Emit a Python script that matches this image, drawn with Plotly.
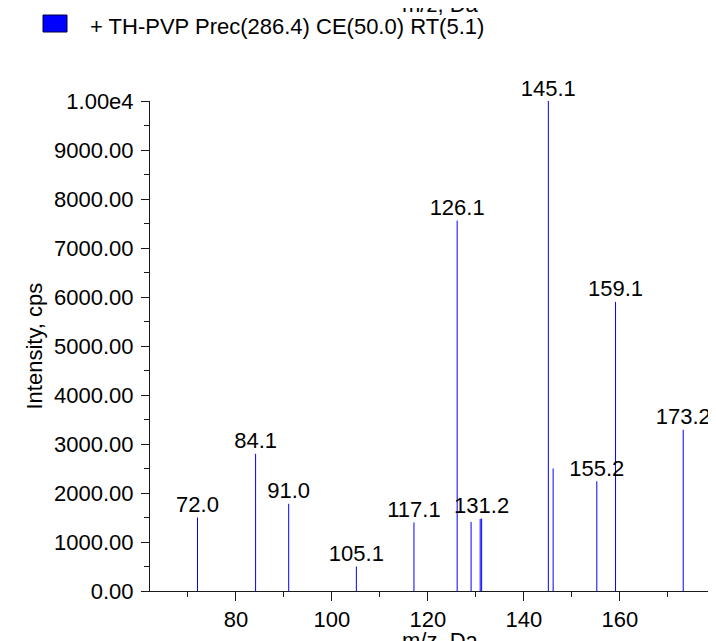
import plotly.graph_objects as go

# ---- data ----
mz = [72.0, 84.1, 91.0, 105.1, 117.1, 126.1, 129.0, 130.9, 131.2, 145.1, 146.1, 155.2, 159.1, 173.2]
intensity = [1500, 2800, 1780, 500, 1400, 7560, 1410, 1470, 1480, 10000, 2500, 2240, 5900, 3290]
peak_labels = ["72.0", "84.1", "91.0", "105.1", "117.1", "126.1", "", "", "131.2",
               "145.1", "", "155.2", "159.1", "173.2"]
y_tickvals = [0, 1000, 2000, 3000, 4000, 5000, 6000, 7000, 8000, 9000, 10000]
y_ticktext = ["0.00", "1000.00", "2000.00", "3000.00", "4000.00", "5000.00",
              "6000.00", "7000.00", "8000.00", "9000.00", "1.00e4"]
legend_text = "+ TH-PVP Prec(286.4) CE(50.0) RT(5.1)"
x_title = "m/z, Da"
y_title = "Intensity, cps"

# ---- layout geometry (pixels) ----
W, H = 716, 641
L, R, T, B = 142, 0, 93, 58
pw, ph = W - L - R, H - T - B
FONT = "Liberation Sans, Arial, sans-serif"
FS = 22
x_range = [62.1, 181.7]


def px_x(p):
    return (p - L) / pw


def px_y(p):
    return (H - B - p) / ph


# stick lines
sx, sy = [], []
for m, v in zip(mz, intensity):
    sx += [m, m, None]
    sy += [0, v, None]

fig = go.Figure()
fig.add_trace(go.Scatter(x=sx, y=sy, mode="lines",
                         line=dict(color="#0000ff", width=1),
                         hoverinfo="skip", showlegend=False))
fig.add_trace(go.Scatter(x=mz, y=intensity, mode="text", text=peak_labels,
                         textposition="top center",
                         textfont=dict(family=FONT, size=FS, color="black"),
                         cliponaxis=False, showlegend=False, hoverinfo="skip"))
# origin marker (triangle pointing at zero level)
fig.add_trace(go.Scatter(x=[x_range[0] - 1.0], y=[0], mode="markers",
                         marker=dict(symbol="triangle-right", size=14, color="#0000ff",
                                     line=dict(color="#000060", width=0.6)),
                         cliponaxis=False, showlegend=False, hoverinfo="skip"))

axis_common = dict(showline=True, linecolor="#1a1a1a", linewidth=1,
                   ticks="outside", tickcolor="#1a1a1a", tickwidth=1,
                   showgrid=False, zeroline=False,
                   tickfont=dict(family=FONT, size=FS, color="black"))

fig.update_xaxes(range=x_range, tick0=0, dtick=20, ticklen=9,
                 minor=dict(dtick=10, ticklen=5, ticks="outside", tickcolor="#1a1a1a"),
                 **axis_common)
fig.update_yaxes(range=[0, 10000], tickvals=y_tickvals, ticktext=y_ticktext, ticklen=8,
                 ticklabelstandoff=3,
                 minor=dict(dtick=500, ticklen=5, ticks="outside", tickcolor="#1a1a1a"),
                 **axis_common)

annotations = [
    dict(text=x_title, x=px_x(432), y=px_y(632), xref="paper", yref="paper",
         xanchor="center", yanchor="middle", showarrow=False,
         font=dict(family=FONT, size=FS, color="black")),
    dict(text=x_title, x=px_x(432), y=px_y(-3.5), xref="paper", yref="paper",
         xanchor="center", yanchor="middle", showarrow=False,
         font=dict(family=FONT, size=FS, color="black")),
    dict(text=y_title, x=px_x(25.5), y=0.5, xref="paper", yref="paper",
         xanchor="center", yanchor="middle", textangle=-90, showarrow=False,
         font=dict(family=FONT, size=FS, color="black")),
    dict(text=legend_text, x=px_x(80), y=px_y(19), xref="paper", yref="paper",
         xanchor="left", yanchor="middle", showarrow=False,
         font=dict(family=FONT, size=FS, color="black")),
]

shapes = [
    dict(type="rect", xref="paper", yref="paper",
         x0=px_x(35), x1=px_x(59), y0=px_y(24), y1=px_y(7),
         fillcolor="#0000ff", line=dict(color="#000040", width=1)),
]

fig.update_layout(width=W, height=H, margin=dict(l=L, r=R, t=T, b=B, pad=0),
                  paper_bgcolor="white", plot_bgcolor="white",
                  annotations=annotations, shapes=shapes, showlegend=False,
                  font=dict(family=FONT, size=FS, color="black"))

fig.write_html("out.html")
